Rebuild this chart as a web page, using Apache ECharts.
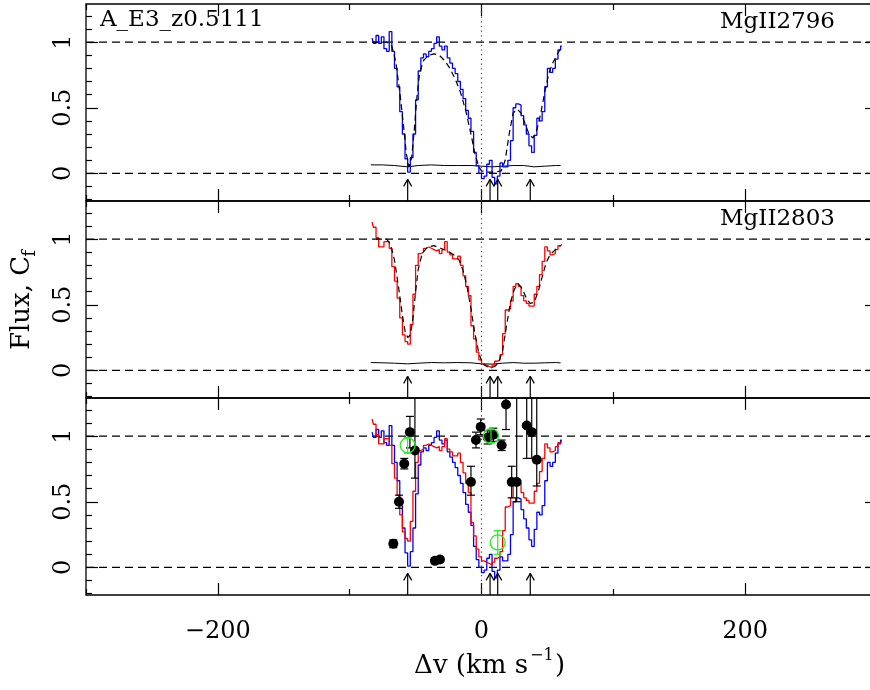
<!DOCTYPE html>
<html>
<head>
<meta charset="utf-8">
<script src="https://cdn.jsdelivr.net/npm/echarts@6/dist/echarts.min.js"></script>
<style>
html, body { margin: 0; background: #fff; overflow: hidden; }
#chart { width: 877px; height: 690px; }
</style>
</head>
<body>
<div id="chart"></div>
<script>
// velocity bins (km/s) shared by both MgII spectra
const vel = [-83, -81, -79, -77, -75, -73, -71, -69, -67, -65, -63, -61, -59, -57, -55, -53, -51, -49, -47, -45,
  -43, -41, -39, -37, -35, -33, -31, -29, -27, -25, -23, -21, -19, -17, -15, -13, -11, -9, -7, -5,
  -3, -1, 1, 3, 5, 7, 9, 11, 13, 15, 17, 19, 21, 23, 25, 27, 29, 31, 33, 35,
  37, 39, 41, 43, 45, 47, 49, 51, 53, 55, 57, 59, 61]

const flux2796 = [1.03, 0.99, 1.05, 0.99, 1.04, 0.95, 0.93, 1.08, 0.93, 0.80, 0.66, 0.47, 0.30, 0.11, 0.01, 0.12, 0.30, 0.56, 0.78, 0.88,
  0.91, 0.89, 0.93, 0.95, 0.99, 1.04, 0.97, 0.94, 0.97, 0.88, 0.84, 0.80, 0.76, 0.70, 0.64, 0.57, 0.48, 0.42, 0.32, 0.16,
  0.06, 0.00, -0.04, -0.02, 0.07, 0.10, -0.03, -0.08, -0.02, 0.08, 0.05, 0.05, 0.10, 0.25, 0.50, 0.53, 0.52, 0.44, 0.37, 0.30,
  0.21, 0.16, 0.29, 0.42, 0.40, 0.47, 0.66, 0.80, 0.77, 0.80, 0.87, 0.94, 0.97]

const flux2803 = [1.13, 1.09, 1.01, 0.94, 0.94, 0.98, 0.98, 0.93, 0.79, 0.68, 0.55, 0.40, 0.27, 0.22, 0.20, 0.35, 0.58, 0.80, 0.89, 0.90,
  0.93, 0.94, 0.93, 0.92, 0.91, 0.92, 0.89, 0.92, 0.98, 0.90, 0.88, 0.85, 0.85, 0.87, 0.80, 0.72, 0.64, 0.57, 0.34, 0.24,
  0.14, 0.08, 0.05, 0.04, 0.03, 0.02, 0.04, 0.07, 0.08, 0.12, 0.28, 0.46, 0.47, 0.53, 0.64, 0.66, 0.64, 0.57, 0.53, 0.51,
  0.49, 0.49, 0.58, 0.64, 0.73, 0.83, 0.94, 0.91, 0.88, 0.89, 0.92, 0.95, 0.96]

// fitted models (dashed)
const model2796V = [-83, -72, -68, -65, -62, -59, -57, -55, -53, -51, -49, -47, -44, -40, -36, -32, -28, -24, -20, -16, -12,
  -8, -5, -2, 0, 5, 10, 15, 18, 21, 24, 27, 30, 33, 36, 39, 42, 45, 48, 51, 54, 57, 60]
const model2796F = [1.0, 1.0, 0.97, 0.85, 0.62, 0.35, 0.15, 0.05, 0.12, 0.33, 0.58, 0.76, 0.86, 0.90, 0.91, 0.90, 0.86, 0.80, 0.72, 0.62, 0.48,
  0.30, 0.15, 0.05, 0.02, 0.01, 0.01, 0.02, 0.10, 0.30, 0.46, 0.49, 0.46, 0.38, 0.30, 0.27, 0.33, 0.46, 0.62, 0.76, 0.84, 0.90, 0.95]

const model2803V = [-80, -72, -69, -66, -63, -60, -58, -56, -54, -52, -50, -48, -45, -41, -36, -31, -26, -21, -17, -14, -11,
  -8, -5, -2, 1, 4, 7, 10, 13, 16, 19, 22, 25, 28, 31, 34, 37, 40, 43, 46, 49, 52, 56, 60]
const model2803F = [1.0, 1.0, 0.96, 0.84, 0.64, 0.42, 0.30, 0.25, 0.27, 0.40, 0.60, 0.77, 0.89, 0.94, 0.95, 0.93, 0.91, 0.88, 0.84, 0.76, 0.64,
  0.47, 0.28, 0.13, 0.05, 0.03, 0.02, 0.03, 0.06, 0.15, 0.34, 0.52, 0.62, 0.66, 0.62, 0.55, 0.51, 0.52, 0.60, 0.71, 0.82, 0.88, 0.92, 0.95]

// error spectra
const sigV = [-84, -75, -66, -56, -48, -38, -28, -18, -8, 0, 8, 16, 24, 32, 40, 48, 56, 60]
const sig2796 = [0.065, 0.065, 0.06, 0.05, 0.06, 0.065, 0.06, 0.06, 0.06, 0.055, 0.05, 0.055, 0.06, 0.06, 0.05, 0.055, 0.06, 0.06]
const sig2803 = [0.06, 0.058, 0.055, 0.05, 0.055, 0.06, 0.058, 0.06, 0.058, 0.05, 0.048, 0.055, 0.06, 0.055, 0.055, 0.058, 0.06, 0.058]

// covering fraction points (black) and green points
const cfV = [-66.9, -62.6, -58.6, -54.3, -50.5, -35.3, -31.5, -8.0, -4.2, -0.6, 4.7, 9.0, 15.3, 18.6, 22.9, 26.7, 34.3, 38.1, 41.9]
const cfF = [0.18, 0.50, 0.79, 1.03, 0.89, 0.05, 0.06, 0.65, 0.97, 1.07, 0.99, 1.01, 0.93, 1.24, 0.65, 0.65, 1.08, 1.03, 0.82]
const cfLo = [0.15, 0.45, 0.75, 0.91, 0.68, 0.03, 0.04, 0.55, 0.91, 1.01, 0.94, 0.96, 0.89, 1.05, 0.53, 0.50, 0.83, 0.83, 0.62]
const cfHi = [0.21, 0.55, 0.83, 1.15, 1.40, 0.07, 0.08, 0.77, 1.03, 1.13, 1.04, 1.06, 0.97, 1.40, 0.77, 1.40, 1.40, 1.40, 1.40]

const greenV = [-56.0, 7.2, 12.3]
const greenF = [0.93, 1.00, 0.19]
const greenLo = [0.87, 0.95, 0.10]
const greenHi = [0.99, 1.05, 0.28]

// component markers
const arrowV = [-56, 6.5, 12.3, 37]

const refLevels = [0, 1]
const xMinorTicks = [-300, -100, 100, 300]
const xMajorTicks = [-200, 0, 200]
const yMinorTicks = [-0.2, -0.1, 0.1, 0.2, 0.3, 0.4, 0.6, 0.7, 0.8, 0.9, 1.1, 1.2]
const yMajorTicks = [0, 0.5, 1]

const panelLabels = ['MgII2796', 'MgII2803', '']

const X_MIN = -300
const X_MAX = 300
const Y_MIN = -0.21
const Y_MAX = 1.29
const PANEL_TOPS = [4, 201, 398]
const PANEL_H = 197
const FONT = '"DejaVu Serif", serif'
const BLUE = '#0000ff'
const RED = '#ff0000'
const GREEN = '#22ee22'

const zip = (xs, ys) => xs.map((x, i) => [x, ys[i]])
const tickLine = { color: '#000', width: 1.2 }

function buildXAxes(g) {
  const base = {
    type: 'value', gridIndex: g, min: X_MIN, max: X_MAX,
    axisLine: { show: false, onZero: false }, splitLine: { show: false }
  }
  const isLast = g === 2
  return [
    { ...base, position: 'bottom', axisTick: { inside: true, length: 6, customValues: xMinorTicks, lineStyle: tickLine }, axisLabel: { show: false } },
    {
      ...base, position: 'bottom',
      axisTick: { inside: true, length: 12, customValues: xMajorTicks, lineStyle: tickLine },
      axisLabel: {
        show: isLast, customValues: xMajorTicks, margin: 25, color: '#000', fontSize: 24, fontFamily: FONT,
        formatter: v => v < 0 ? '\u2212' + Math.abs(v) : String(v)
      }
    },
    { ...base, position: 'top', axisTick: { inside: true, length: 6, customValues: xMinorTicks, lineStyle: tickLine }, axisLabel: { show: false } },
    { ...base, position: 'top', axisTick: { inside: true, length: 12, customValues: xMajorTicks, lineStyle: tickLine }, axisLabel: { show: false } }
  ]
}

function buildYAxes(g) {
  const base = {
    type: 'value', gridIndex: g, min: Y_MIN, max: Y_MAX,
    axisLine: { show: false, onZero: false }, splitLine: { show: false }
  }
  return [
    { ...base, position: 'left', axisTick: { inside: true, length: 6, customValues: yMinorTicks, lineStyle: tickLine }, axisLabel: { show: false } },
    {
      ...base, position: 'left',
      axisTick: { inside: true, length: 12, customValues: yMajorTicks, lineStyle: tickLine },
      axisLabel: { customValues: yMajorTicks, rotate: 90, margin: 10, color: '#000', fontSize: 24, fontFamily: FONT, formatter: v => String(v) }
    },
    { ...base, position: 'right', axisTick: { inside: true, length: 6, customValues: yMinorTicks, lineStyle: tickLine }, axisLabel: { show: false } },
    { ...base, position: 'right', axisTick: { inside: true, length: 12, customValues: yMajorTicks, lineStyle: tickLine }, axisLabel: { show: false } }
  ]
}

function stepSeries(g, ys, color) {
  return {
    type: 'line', xAxisIndex: 4 * g, yAxisIndex: 4 * g, step: 'middle', symbol: 'none',
    data: zip(vel, ys), lineStyle: { color, width: 1.3 }, z: 3
  }
}

function plainLine(g, data, color, width, dash, z) {
  return {
    type: 'line', xAxisIndex: 4 * g, yAxisIndex: 4 * g, symbol: 'none', data,
    lineStyle: { color, width, type: dash }, z
  }
}

function errorBarSeries(g, xs, lo, hi, color, z) {
  return {
    type: 'custom', xAxisIndex: 4 * g, yAxisIndex: 4 * g, clip: true, z,
    data: xs.map((x, i) => [x, lo[i], hi[i]]),
    renderItem: (params, api) => {
      const top = api.coord([api.value(0), api.value(2)])
      const bot = api.coord([api.value(0), api.value(1)])
      const w = 4
      const st = { stroke: color, lineWidth: 1.2 }
      return {
        type: 'group',
        children: [
          { type: 'line', shape: { x1: top[0], y1: top[1], x2: bot[0], y2: bot[1] }, style: st },
          { type: 'line', shape: { x1: top[0] - w, y1: top[1], x2: top[0] + w, y2: top[1] }, style: st },
          { type: 'line', shape: { x1: bot[0] - w, y1: bot[1], x2: bot[0] + w, y2: bot[1] }, style: st }
        ]
      }
    }
  }
}

function arrowSeries(g) {
  return {
    type: 'custom', xAxisIndex: 4 * g, yAxisIndex: 4 * g, clip: true, z: 5,
    data: arrowV.map(v => [v]),
    renderItem: (params, api) => {
      const tip = api.coord([api.value(0), -0.045])
      const base = api.coord([api.value(0), Y_MIN])
      const st = { stroke: '#000', lineWidth: 1.2 }
      return {
        type: 'group',
        children: [
          { type: 'line', shape: { x1: tip[0], y1: tip[1], x2: base[0], y2: base[1] }, style: st },
          { type: 'line', shape: { x1: tip[0], y1: tip[1], x2: tip[0] - 4, y2: tip[1] + 7 }, style: st },
          { type: 'line', shape: { x1: tip[0], y1: tip[1], x2: tip[0] + 4, y2: tip[1] + 7 }, style: st }
        ]
      }
    }
  }
}

function panelFrame(g) {
  const out = refLevels.map(lv => plainLine(g, [[X_MIN, lv], [X_MAX, lv]], '#000', 1.2, [8, 5], 2))
  out.push(plainLine(g, [[0, Y_MIN], [0, Y_MAX]], '#444', 1.2, [1.2, 3.5], 2))
  out.push(arrowSeries(g))
  return out
}

const series = [
  ...panelFrame(0),
  plainLine(0, zip(sigV, sig2796), '#000', 1, 'solid', 2),
  stepSeries(0, flux2796, BLUE),
  plainLine(0, zip(model2796V, model2796F), '#000', 1.2, [6, 4], 4),

  ...panelFrame(1),
  plainLine(1, zip(sigV, sig2803), '#000', 1, 'solid', 2),
  stepSeries(1, flux2803, RED),
  plainLine(1, zip(model2803V, model2803F), '#000', 1.2, [6, 4], 4),

  ...panelFrame(2),
  stepSeries(2, flux2796, BLUE),
  stepSeries(2, flux2803, RED),
  errorBarSeries(2, cfV, cfLo, cfHi, '#000', 6),
  {
    type: 'scatter', xAxisIndex: 8, yAxisIndex: 8, symbol: 'circle', symbolSize: 10, z: 7,
    data: zip(cfV, cfF), itemStyle: { color: '#000', opacity: 1 }
  },
  errorBarSeries(2, greenV, greenLo, greenHi, GREEN, 8),
  {
    type: 'scatter', xAxisIndex: 8, yAxisIndex: 8, symbol: 'circle', symbolSize: 15, z: 9,
    data: zip(greenV, greenF), itemStyle: { color: 'rgba(0,0,0,0)', borderColor: GREEN, borderWidth: 1.3, opacity: 1 }
  }
]

const textStyle = (text, size, extra) => ({ text, font: size + 'px ' + FONT, fill: '#000', ...extra })

const graphic = [
  { type: 'text', x: 100, y: 20, style: textStyle('A_E3_z0.5111', 23, { verticalAlign: 'middle' }) },
  ...panelLabels.filter(t => t).map((t, i) => ({
    type: 'text', x: 835, y: PANEL_TOPS[i] + 18, style: textStyle(t, 23, { align: 'right', verticalAlign: 'middle' })
  })),
  { type: 'text', x: 22, y: 303, rotation: Math.PI / 2, style: textStyle('Flux, C', 26, { align: 'center', verticalAlign: 'middle' }) },
  { type: 'text', x: 30, y: 250, rotation: Math.PI / 2, style: textStyle('f', 18, { align: 'right', verticalAlign: 'middle' }) },
  { type: 'text', x: 528, y: 666, style: textStyle('\u0394v (km s', 26, { align: 'right', verticalAlign: 'middle' }) },
  { type: 'text', x: 530, y: 656, style: textStyle('\u22121', 16, { align: 'left', verticalAlign: 'middle' }) },
  { type: 'text', x: 555, y: 666, style: textStyle(')', 26, { align: 'left', verticalAlign: 'middle' }) }
]

const chart = echarts.init(document.getElementById('chart'), undefined, { renderer: 'canvas' })
chart.setOption({
  animation: false,
  backgroundColor: '#fff',
  grid: PANEL_TOPS.map(top => ({
    left: 86, right: 0, top, height: PANEL_H,
    show: true, borderColor: '#000', borderWidth: 1.3, backgroundColor: 'transparent'
  })),
  xAxis: [0, 1, 2].flatMap(buildXAxes),
  yAxis: [0, 1, 2].flatMap(buildYAxes),
  series,
  graphic
})
</script>
</body>
</html>
